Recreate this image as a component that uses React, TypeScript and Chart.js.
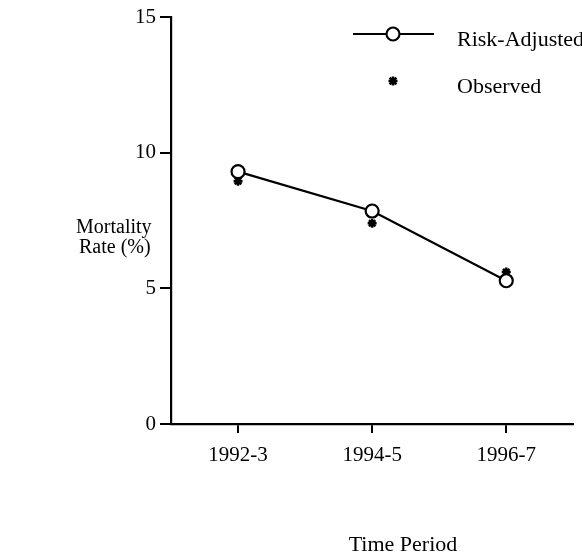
import React, { useEffect, useRef } from "react";
import { Chart, registerables } from "chart.js";

Chart.register(...registerables);

const categories = ["1992-3", "1994-5", "1996-7"];
const riskAdjusted = [9.3, 7.85, 5.28];
const observed = [8.95, 7.4, 5.6];
const yTicks = [0, 5, 10, 15];
const legendLabels = ["Risk-Adjusted", "Observed"];
const yTitle = ["Mortality", "Rate (%)"];
const xTitle = "Time Period";

const FONT = "'Liberation Serif', 'DejaVu Serif', serif";

function drawStar(ctx: CanvasRenderingContext2D, cx: number, cy: number, r: number) {
  const d = r * 0.75;
  ctx.beginPath();
  ctx.moveTo(cx - r, cy);
  ctx.lineTo(cx + r, cy);
  ctx.moveTo(cx, cy - r);
  ctx.lineTo(cx, cy + r);
  ctx.moveTo(cx - d, cy - d);
  ctx.lineTo(cx + d, cy + d);
  ctx.moveTo(cx - d, cy + d);
  ctx.lineTo(cx + d, cy - d);
  ctx.stroke();
}

const textPlugin = {
  id: "customText",
  afterDraw(chart: any) {
    const ctx = chart.ctx;
    ctx.save();
    ctx.fillStyle = "#000";
    ctx.textBaseline = "middle";
    // y title
    ctx.font = `20px ${FONT}`;
    ctx.textAlign = "left";
    ctx.fillText(yTitle[0], 76, 228);
    ctx.fillText(yTitle[1], 79, 248);
    // x title
    ctx.font = `22px ${FONT}`;
    ctx.textAlign = "center";
    ctx.fillText(xTitle, 403, 545);
    // legend
    ctx.textAlign = "left";
    ctx.strokeStyle = "#000";
    ctx.lineWidth = 2.2;
    ctx.beginPath();
    ctx.moveTo(353, 34);
    ctx.lineTo(434, 34);
    ctx.stroke();
    ctx.beginPath();
    ctx.arc(393, 34, 6.5, 0, Math.PI * 2);
    ctx.fillStyle = "#fff";
    ctx.fill();
    ctx.stroke();
    ctx.fillStyle = "#000";
    ctx.fillText(legendLabels[0], 457, 40);
    ctx.lineWidth = 2.5;
    drawStar(ctx, 393, 81, 4.5);
    ctx.fillText(legendLabels[1], 457, 87);
    ctx.restore();
  },
};

export default function App() {
  const ref = useRef<HTMLCanvasElement>(null);
  useEffect(() => {
    document.body.style.margin = "0";
    const chart = new Chart(ref.current!, {
      type: "line",
      data: {
        labels: categories,
        datasets: [
          {
            label: legendLabels[0],
            data: riskAdjusted,
            borderColor: "#000",
            borderWidth: 2.2,
            pointStyle: "circle",
            pointRadius: 6.5,
            pointBorderWidth: 2.2,
            pointBackgroundColor: "#fff",
            pointBorderColor: "#000",
            tension: 0,
          },
          {
            label: legendLabels[1],
            data: observed,
            showLine: false,
            pointStyle: "star",
            pointRadius: 4.5,
            pointBorderWidth: 2.5,
            pointBorderColor: "#000",
            pointBackgroundColor: "#000",
            borderColor: "#000",
          },
        ],
      },
      options: {
        responsive: false,
        animation: false,
        devicePixelRatio: 1,
        layout: { padding: { left: 0, right: 7, top: 17, bottom: 0 } },
        plugins: { legend: { display: false }, tooltip: { enabled: false } },
        scales: {
          x: {
            offset: true,
            grid: {
              display: true,
              drawOnChartArea: false,
              drawTicks: true,
              tickLength: 9,
              color: "#000",
              lineWidth: 2,
              offset: false,
            },
            border: { display: true, color: "#000", width: 2.2 },
            ticks: { color: "#000", font: { family: FONT, size: 21 }, padding: 10 },
            afterFit(scale: any) {
              scale.height = 132;
            },
          },
          y: {
            min: 0,
            max: 15,
            afterBuildTicks(scale: any) {
              scale.ticks = yTicks.map((v) => ({ value: v }));
            },
            grid: {
              display: true,
              drawOnChartArea: false,
              drawTicks: true,
              tickLength: 11,
              color: "#000",
              lineWidth: 2,
            },
            border: { display: true, color: "#000", width: 2.2 },
            ticks: { color: "#000", font: { family: FONT, size: 21 }, padding: 4 },
            afterFit(scale: any) {
              scale.width = 171;
            },
          },
        },
      },
      plugins: [textPlugin],
    });
    return () => chart.destroy();
  }, []);
  return (
    <div style={{ width: 582, height: 556 }}>
      <canvas ref={ref} width={582} height={556} style={{ display: "block" }} />
    </div>
  );
}
